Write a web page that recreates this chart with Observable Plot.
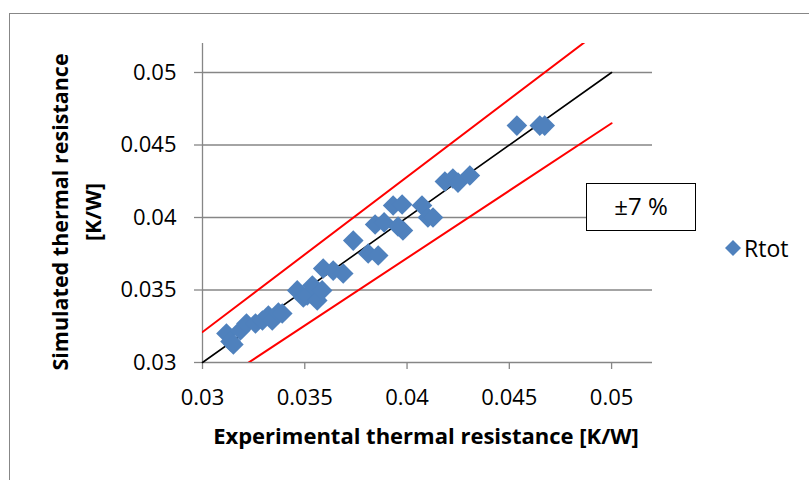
<!DOCTYPE html>
<html>
<head>
<meta charset="utf-8">
<script src="https://cdn.jsdelivr.net/npm/d3@7"></script>
<script src="https://cdn.jsdelivr.net/npm/@observablehq/plot@0.6"></script>
<style>
  html, body { margin: 0; padding: 0; background: #fff; }
  #wrap { position: relative; width: 809px; height: 480px; overflow: hidden; font-family: "Open Sans", sans-serif; }
  #wrap > svg { position: absolute; left: 0; top: 0; }
  .frame { position: absolute; left: 9px; top: 13px; width: 820px; height: 480px; border-left: 1px solid #878787; border-top: 1px solid #878787; }
  .xtitle { position: absolute; left: 0; width: 852px; top: 420px; text-align: center; font-weight: bold; font-size: 22px; color: #000; }
  .ytitle { position: absolute; left: 76px; top: 212px; width: 380px; transform: translate(-50%, -50%) rotate(-90deg); text-align: center; font-weight: bold; font-size: 21.5px; line-height: 33px; color: #000; }
  .pct { position: absolute; left: 586px; top: 183px; width: 110px; height: 48px; border: 1.5px solid #000; background: #fff; box-sizing: border-box; text-align: center; font-size: 24px; line-height: 44px; color: #000; }
  .legend { position: absolute; left: 725px; top: 232px; font-size: 23px; color: #000; display: flex; align-items: center; }
  #wrap .legend svg { position: static; margin-right: 3px; }
</style>
</head>
<body>
<div id="wrap"></div>
<script>
// Experimental (x) vs simulated (y) thermal resistance, Rtot series [K/W]
const expR = [0.03117, 0.03137, 0.03151, 0.03185, 0.03215, 0.03259, 0.03293, 0.03322, 0.03341, 0.03371,
              0.03390, 0.03463, 0.03493, 0.03512, 0.03537, 0.03561, 0.03585, 0.03590, 0.03639, 0.03688,
              0.03737, 0.03810, 0.03859, 0.03844, 0.03888, 0.03932, 0.03976, 0.03980, 0.03956, 0.04073,
              0.04102, 0.04127, 0.04185, 0.04224, 0.04249, 0.04307, 0.04537, 0.04649, 0.04673];
const simR = [0.03200, 0.03145, 0.03124, 0.03221, 0.03269, 0.03269, 0.03290, 0.03324, 0.03290, 0.03345,
              0.03338, 0.03497, 0.03448, 0.03462, 0.03531, 0.03428, 0.03497, 0.03648, 0.03634, 0.03614,
              0.03841, 0.03752, 0.03738, 0.03952, 0.03966, 0.04083, 0.04090, 0.03910, 0.03938, 0.04083,
              0.04000, 0.04000, 0.04248, 0.04269, 0.04241, 0.04290, 0.04634, 0.04634, 0.04634];
const ticks = [0.03, 0.035, 0.04, 0.045, 0.05];
const tickLabels = ["0.03", "0.035", "0.04", "0.045", "0.05"];
const domain = [0.03, 0.052];
const lineX = [0.03, 0.05];        // ends of the reference lines
const bandFactors = [1.07, 0.93];  // ±7 % band
const seriesName = "Rtot";
const bandLabel = "±7 %";

const points = expR.map((x, i) => ({x, y: simR[i]}));
const ident = lineX.map(x => ({x, y: x}));
const upper = lineX.map(x => ({x, y: x * bandFactors[0]}));
const lower = lineX.map(x => ({x, y: x * bandFactors[1]}));
const fmt = d => tickLabels[ticks.findIndex(t => Math.abs(t - d) < 1e-9)];

const grey = "#868686";
const chart = Plot.plot({
  width: 809,
  height: 480,
  marginLeft: 202,
  marginRight: 157,
  marginTop: 43,
  marginBottom: 118,
  style: {fontFamily: "'Open Sans', sans-serif", fontSize: "22px", color: "#000", background: "transparent"},
  x: {domain, ticks, tickFormat: fmt},
  y: {domain, ticks, tickFormat: fmt},
  marks: [
    Plot.ruleY(ticks.slice(1), {stroke: grey, strokeWidth: 1.3}),
    Plot.ruleX([0.03], {stroke: grey, strokeWidth: 1.3}),
    Plot.ruleY([0.03], {stroke: grey, strokeWidth: 1.3}),
    Plot.axisX({ticks, tickFormat: fmt, tickSize: 7, tickPadding: 20, stroke: grey, strokeWidth: 1.3, label: null, fill: "#000"}),
    Plot.axisY({ticks, tickFormat: fmt, tickSize: 8, tickPadding: 18, stroke: grey, strokeWidth: 1.3, label: null, fill: "#000"}),
    Plot.line(upper, {x: "x", y: "y", stroke: "#ff0000", strokeWidth: 2, clip: true}),
    Plot.line(lower, {x: "x", y: "y", stroke: "#ff0000", strokeWidth: 2, clip: true}),
    Plot.line(ident, {x: "x", y: "y", stroke: "#000", strokeWidth: 1.6}),
    Plot.dot(points, {x: "x", y: "y", symbol: "diamond2", r: 9.3, fill: "#4F81BD", stroke: "none"})
  ]
});

const wrap = document.getElementById("wrap");
const frame = document.createElement("div"); frame.className = "frame"; wrap.appendChild(frame);
wrap.appendChild(chart);

const xt = document.createElement("div"); xt.className = "xtitle";
xt.textContent = "Experimental thermal resistance [K/W]"; wrap.appendChild(xt);
const yt = document.createElement("div"); yt.className = "ytitle";
yt.innerHTML = "Simulated thermal resistance<br>[K/W]"; wrap.appendChild(yt);
const pct = document.createElement("div"); pct.className = "pct"; pct.textContent = bandLabel; wrap.appendChild(pct);
const lg = document.createElement("div"); lg.className = "legend";
lg.innerHTML = '<svg width="16" height="16" viewBox="0 0 16 16"><polygon points="8,0 16,8 8,16 0,8" fill="#4F81BD"/></svg><span>' + seriesName + '</span>';
wrap.appendChild(lg);
</script>
</body>
</html>
